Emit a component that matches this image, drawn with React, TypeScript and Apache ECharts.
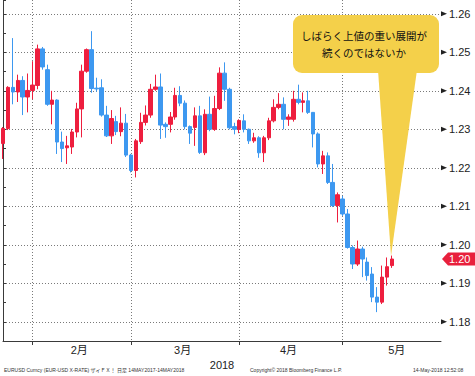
import React, { useEffect, useRef } from "react";
import * as echarts from "echarts";

// ---- data ----
const START_DATE = "2018-01-24";
const AXIS_DAYS = 90; // weekdays shown on the axis (data + empty future days)

const opens = [
  1.2263, 1.2302, 1.2409, 1.2397, 1.2427, 1.2384, 1.2401, 1.2414, 1.2509, 1.2455,
  1.2365, 1.2376, 1.2267, 1.2252, 1.2254, 1.2293, 1.2353, 1.2451, 1.2507, 1.2407,
  1.2408, 1.2337, 1.2283, 1.2320, 1.2294, 1.2316, 1.2233, 1.2193, 1.2268, 1.2318,
  1.2337, 1.2404, 1.2410, 1.2313, 1.2313, 1.2332, 1.2388, 1.2368, 1.2307, 1.2305,
  1.2335, 1.2239, 1.2339, 1.2300, 1.2354, 1.2446, 1.2404, 1.2307, 1.2300, 1.2322,
  1.2300, 1.2270, 1.2278, 1.2239, 1.2278, 1.2322, 1.2357, 1.2365, 1.2326, 1.2326,
  1.2378, 1.2370, 1.2374, 1.2344, 1.2288, 1.2210, 1.2231, 1.2162, 1.2102, 1.2119,
  1.2080, 1.1993, 1.1950, 1.1989, 1.1955, 1.1924, 1.1864, 1.1851, 1.1916, 1.1946,
];
const closes = [
  1.2302, 1.2409, 1.2397, 1.2427, 1.2384, 1.2401, 1.2415, 1.2509, 1.2462, 1.2365,
  1.2376, 1.2267, 1.2250, 1.2257, 1.2293, 1.2353, 1.2451, 1.2507, 1.2406, 1.2405,
  1.2337, 1.2283, 1.2328, 1.2294, 1.2316, 1.2233, 1.2193, 1.2270, 1.2318, 1.2337,
  1.2404, 1.2410, 1.2311, 1.2307, 1.2332, 1.2388, 1.2368, 1.2307, 1.2290, 1.2335,
  1.2240, 1.2339, 1.2300, 1.2354, 1.2446, 1.2404, 1.2304, 1.2300, 1.2323, 1.2300,
  1.2270, 1.2278, 1.2239, 1.2278, 1.2322, 1.2357, 1.2365, 1.2326, 1.2332, 1.2378,
  1.2370, 1.2374, 1.2344, 1.2288, 1.2210, 1.2231, 1.2162, 1.2102, 1.2130, 1.2080,
  1.1993, 1.1950, 1.1989, 1.1963, 1.1920, 1.1864, 1.1851, 1.1916, 1.1943, 1.1963,
];
const highs = [
  1.2306, 1.2412, 1.2537, 1.2442, 1.2438, 1.2445, 1.2477, 1.2520, 1.2514, 1.2468,
  1.2400, 1.2378, 1.2294, 1.2283, 1.2301, 1.2369, 1.2468, 1.2510, 1.2555, 1.2434,
  1.2430, 1.2361, 1.2350, 1.2335, 1.2357, 1.2340, 1.2236, 1.2275, 1.2343, 1.2362,
  1.2418, 1.2442, 1.2445, 1.2318, 1.2345, 1.2408, 1.2412, 1.2375, 1.2310, 1.2357,
  1.2361, 1.2352, 1.2385, 1.2387, 1.2461, 1.2474, 1.2408, 1.2317, 1.2326, 1.2339,
  1.2302, 1.2291, 1.2282, 1.2283, 1.2330, 1.2378, 1.2394, 1.2383, 1.2339, 1.2400,
  1.2416, 1.2396, 1.2400, 1.2345, 1.2292, 1.2244, 1.2240, 1.2210, 1.2136, 1.2127,
  1.2093, 1.1998, 1.2011, 1.1995, 1.1967, 1.1942, 1.1890, 1.1946, 1.1967, 1.1972,
];
const lows = [
  1.2223, 1.2298, 1.2365, 1.2371, 1.2337, 1.2344, 1.2378, 1.2404, 1.2455, 1.2361,
  1.2313, 1.2236, 1.2215, 1.2210, 1.2236, 1.2279, 1.2279, 1.2447, 1.2395, 1.2398,
  1.2333, 1.2280, 1.2262, 1.2285, 1.2282, 1.2228, 1.2188, 1.2175, 1.2262, 1.2310,
  1.2330, 1.2400, 1.2275, 1.2278, 1.2292, 1.2325, 1.2360, 1.2300, 1.2262, 1.2257,
  1.2236, 1.2233, 1.2295, 1.2296, 1.2350, 1.2374, 1.2300, 1.2287, 1.2290, 1.2292,
  1.2262, 1.2265, 1.2226, 1.2215, 1.2272, 1.2318, 1.2352, 1.2300, 1.2309, 1.2320,
  1.2365, 1.2344, 1.2340, 1.2253, 1.2201, 1.2184, 1.2158, 1.2098, 1.2058, 1.2075,
  1.1990, 1.1937, 1.1945, 1.1916, 1.1907, 1.1851, 1.1825, 1.1846, 1.1894, 1.1940,
];

const yGridTicks = [1.18, 1.19, 1.2, 1.21, 1.22, 1.23, 1.24, 1.25, 1.26];
const Y_MIN = 1.175;
const Y_MAX = 1.2636;
const yearLabel = "2018";
const calloutLines = ["しばらく上値の重い展開が", "続くのではないか"];
const footerLeft = "EURUSD Curncy (EUR-USD X-RATE) ザイＦＸ！ 日足 14MAY2017-14MAY2018";
const footerMid = "Copyright© 2018 Bloomberg Finance L.P.";
const footerRight = "14-May-2018 12:52:08";

// ---- derived ----
const isWd = (d: Date) => d.getUTCDay() !== 0 && d.getUTCDay() !== 6;
const fmt = (d: Date) => d.toISOString().slice(0, 10);
const startD = new Date(START_DATE + "T00:00:00Z");

const categories: string[] = [];
{
  const d = new Date(startD);
  while (categories.length < AXIS_DAYS) {
    if (isWd(d)) categories.push(fmt(d));
    d.setUTCDate(d.getUTCDate() + 1);
  }
}

function weekdayOffset(date: Date): number {
  let n = 0;
  const d = new Date(startD);
  if (date >= startD) {
    while (d < date) {
      if (isWd(d)) n++;
      d.setUTCDate(d.getUTCDate() + 1);
    }
  } else {
    while (d > date) {
      d.setUTCDate(d.getUTCDate() - 1);
      if (isWd(d)) n--;
    }
  }
  return n;
}

const monthMarks: { mid: number; label: string }[] = [];
{
  const lastD = new Date(categories[categories.length - 1] + "T00:00:00Z");
  let y = startD.getUTCFullYear();
  let m = startD.getUTCMonth();
  while (y * 12 + m <= lastD.getUTCFullYear() * 12 + lastD.getUTCMonth()) {
    const f = new Date(Date.UTC(y, m, 1));
    while (!isWd(f)) f.setUTCDate(f.getUTCDate() + 1);
    const l = new Date(Date.UTC(y, m + 1, 0));
    while (!isWd(l)) l.setUTCDate(l.getUTCDate() - 1);
    const mid = (weekdayOffset(f) + weekdayOffset(l)) / 2;
    if (mid >= 0 && mid <= AXIS_DAYS - 1) monthMarks.push({ mid, label: `${m + 1}月` });
    m++;
    if (m > 11) { m = 0; y++; }
  }
}

const monthStartIdx: number[] = [];
for (let i = 1; i < categories.length; i++) {
  if (categories[i].slice(5, 7) !== categories[i - 1].slice(5, 7)) monthStartIdx.push(i);
}

const candleData = opens.map((o, i) => [o, closes[i], lows[i], highs[i]]);

const FONT = "'Liberation Sans', 'Noto Sans CJK JP', sans-serif";
const UP = "#EE1E3E";
const DOWN = "#3D98F0";
const YELLOW = "#F4D04A";
const GRID = "#7a7a7a";

export default function App() {
  const ref = useRef<HTMLDivElement>(null);
  useEffect(() => {
    if (!ref.current) return;
    const chart = echarts.init(ref.current, null, { renderer: "svg" });
    const option: any = {
      animation: false,
      backgroundColor: "#ffffff",
      grid: { left: 3, right: 34, top: 0, bottom: 35, containLabel: false, outerBoundsMode: "none" },
      xAxis: [
        {
          type: "category",
          data: categories,
          boundaryGap: false,
          axisLine: { show: true, lineStyle: { color: "#3a3a3a", width: 1 } },
          axisTick: {
            show: true,
            interval: (i: number) => monthStartIdx.includes(i),
            length: 4,
            lineStyle: { color: "#3a3a3a" },
          },
          axisLabel: { show: false },
          splitLine: {
            show: true,
            interval: (i: number) => monthStartIdx.includes(i),
            lineStyle: { type: [1, 2], width: 1, color: GRID },
          },
        },
        {
          type: "value",
          min: 0,
          max: AXIS_DAYS - 1,
          interval: 0.5,
          position: "bottom",
          axisLine: { show: false },
          axisTick: { show: false },
          splitLine: { show: false },
          axisLabel: {
            show: true,
            margin: 3,
            fontSize: 11,
            color: "#222",
            fontFamily: FONT,
            formatter: (v: number) => {
              const mk = monthMarks.find((m) => Math.abs(m.mid - v) < 0.01);
              return mk ? mk.label : "";
            },
          },
          name: yearLabel,
          nameLocation: "middle",
          nameGap: 13,
          nameTextStyle: { fontSize: 11, color: "#222", fontFamily: FONT },
        },
      ],
      yAxis: [
        {
          type: "value",
          position: "right",
          min: Y_MIN,
          max: Y_MAX,
          interval: 0.005,
          scale: true,
          axisLine: { show: true, lineStyle: { color: "#3a3a3a", width: 1 } },
          axisTick: { show: true, length: 3, lineStyle: { color: "#3a3a3a" } },
          axisLabel: {
            margin: 8,
            fontSize: 11,
            color: "#222",
            fontFamily: FONT,
            formatter: (v: number) =>
              yGridTicks.some((t) => Math.abs(t - v) < 1e-6) ? v.toFixed(2) : "",
          },
          splitLine: {
            show: true,
            lineStyle: { type: [1, 2], width: 1, color: ["rgba(0,0,0,0)", GRID] },
          },
        },
      ],
      series: [
        {
          type: "candlestick",
          xAxisIndex: 0,
          yAxisIndex: 0,
          data: candleData,
          barWidth: 4,
          clip: true,
          itemStyle: {
            color: UP,
            color0: DOWN,
            borderColor: UP,
            borderColor0: DOWN,
            borderWidth: 1,
          },
        },
      ],
    };
    chart.setOption(option);

    const W = chart.getWidth();
    const yPix = (v: number) => chart.convertToPixel({ yAxisIndex: 0 }, v) as number;
    const ax = chart.convertToPixel({ xAxisIndex: 1 }, AXIS_DAYS - 1) as number;
    const lastClose = closes[closes.length - 1];
    const ty = yPix(lastClose);

    const graphics: any[] = [];
    yGridTicks.forEach((t) => {
      const y = yPix(t);
      graphics.push({
        type: "polygon",
        z: 100,
        silent: true,
        shape: { points: [[ax, y - 2.5], [ax + 6, y], [ax, y + 2.5]] },
        style: { fill: "#222" },
      });
    });
    graphics.push({
      type: "polygon",
      z: 100,
      silent: true,
      shape: { points: [[ax + 1, ty], [ax + 7, ty - 6.5], [W, ty - 6.5], [W, ty + 6.5], [ax + 7, ty + 6.5]] },
      style: { fill: "#E8203C" },
    });
    graphics.push({
      type: "text",
      z: 101,
      silent: true,
      x: ax + 8,
      y: ty,
      style: {
        text: lastClose.toFixed(2),
        fill: "#fff",
        fontSize: 11,
        fontFamily: FONT,
        align: "left",
        verticalAlign: "middle",
        textAlign: "left",
        textVerticalAlign: "middle",
      },
    });
    // callout
    graphics.push({
      type: "polygon",
      z: 100,
      silent: true,
      shape: { points: [[378, 70], [417, 70], [391, 256]] },
      style: { fill: YELLOW },
    });
    graphics.push({
      type: "rect",
      z: 100,
      silent: true,
      shape: { x: 293, y: 15, width: 146, height: 58, r: 9 },
      style: { fill: YELLOW },
    });
    calloutLines.forEach((line, i) => {
      graphics.push({
        type: "text",
        z: 101,
        silent: true,
        x: 364,
        y: 35 + i * 17,
        style: {
          text: line,
          fill: "#111",
          fontSize: 10.5,
          fontFamily: "'Noto Sans CJK JP', sans-serif",
          align: "center",
          verticalAlign: "middle",
          textAlign: "center",
          textVerticalAlign: "middle",
        },
      });
    });
    // footer
    const foot = (text: string, x: number) => ({
      type: "text",
      z: 101,
      silent: true,
      x,
      y: 370,
      style: {
        text,
        fill: "#333",
        fontSize: 5,
        fontFamily: FONT,
        align: "left",
        verticalAlign: "middle",
        textAlign: "left",
        textVerticalAlign: "middle",
      },
    });
    graphics.push(foot(footerLeft, 4));
    graphics.push(foot(footerMid, 250));
    graphics.push(foot(footerRight, 413));

    chart.setOption({ graphic: graphics });
    return () => chart.dispose();
  }, []);
  return (
    <div
      ref={ref}
      style={{ position: "fixed", left: 0, top: 0, width: 475, height: 376, background: "#fff" }}
    />
  );
}
